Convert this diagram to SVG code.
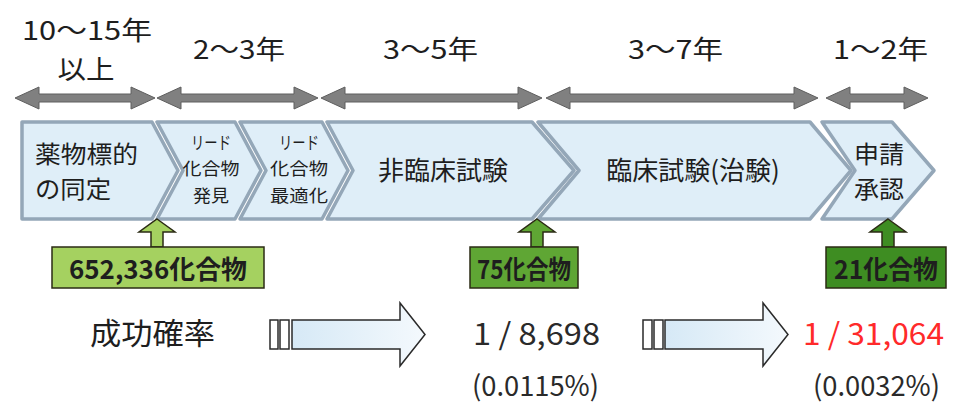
<svg xmlns="http://www.w3.org/2000/svg" width="955" height="407" viewBox="0 0 955 407">
<defs>
<linearGradient id="hol" x1="0" y1="0" x2="1" y2="0">
<stop offset="0" stop-color="#d6e9f6"/>
<stop offset="1" stop-color="#f4f9fd"/>
</linearGradient>
</defs>
<style>
.t{font-family:"Noto Sans CJK JP","Noto Sans",sans-serif;fill:#1e1e1e}
.yr{font-size:26px}
.ch{font-size:26px}
.ch2{font-size:24px}
.sm{font-size:17.5px}
.bx{font-size:26px;font-weight:700}
.num{font-size:30px;fill:#2a2a2a}
.pct{font-size:28px;fill:#2a2a2a}
.red{fill:#ff2a2a}
.span{fill:#808080;stroke:#5e5e5e;stroke-width:1}
.chev{fill:#dfeef8;stroke:#94a7b8;stroke-width:3.5;stroke-linejoin:round}
.hol{fill:url(#hol);stroke:#2a2a2a;stroke-width:1.5}
.bar{fill:#ffffff;stroke:#2a2a2a;stroke-width:1.5}
.gb{stroke:#2b2b14;stroke-width:1.5}
</style>
<rect width="955" height="407" fill="#ffffff"/>

<g id="durations">
<text class="t yr" x="22" y="40" textLength="130" lengthAdjust="spacingAndGlyphs">10～15年</text>
<text class="t yr" x="86" y="79" text-anchor="middle" textLength="57" lengthAdjust="spacingAndGlyphs">以上</text>
<text class="t yr" x="193" y="59" textLength="92" lengthAdjust="spacingAndGlyphs">2～3年</text>
<text class="t yr" x="383" y="59" textLength="95" lengthAdjust="spacingAndGlyphs">3～5年</text>
<text class="t yr" x="628" y="59" textLength="95" lengthAdjust="spacingAndGlyphs">3～7年</text>
<text class="t yr" x="833" y="59" textLength="95" lengthAdjust="spacingAndGlyphs">1～2年</text>
</g>

<g id="connectors">
<path class="span" d="M15,98 L39,87 L39,94 L131,94 L131,87 L155,98 L131,109 L131,102 L39,102 L39,109 Z"/>
<path class="span" d="M157,98 L181,87 L181,94 L294,94 L294,87 L318,98 L294,109 L294,102 L181,102 L181,109 Z"/>
<path class="span" d="M321,98 L345,87 L345,94 L518,94 L518,87 L542,98 L518,109 L518,102 L345,102 L345,109 Z"/>
<path class="span" d="M546,98 L570,87 L570,94 L794,94 L794,87 L818,98 L794,109 L794,102 L570,102 L570,109 Z"/>
<path class="span" d="M826,98 L850,87 L850,94 L904,94 L904,87 L928,98 L904,109 L904,102 L850,102 L850,109 Z"/>
</g>

<g id="stage1">
<path class="chev" d="M22,122 L152,122 L178,170.5 L152,219 L22,219 Z"/>
<text class="t ch2" x="35" y="163" textLength="103" lengthAdjust="spacingAndGlyphs">薬物標的</text>
<text class="t ch2" x="35" y="198" textLength="76" lengthAdjust="spacingAndGlyphs">の同定</text>
</g>
<g id="stage2">
<path class="chev" d="M157,122 L235,122 L261,170.5 L235,219 L157,219 L183,170.5 Z"/>
<text class="t sm" x="211" y="149" text-anchor="middle" textLength="40" lengthAdjust="spacingAndGlyphs">リード</text>
<text class="t sm" x="211" y="175" text-anchor="middle" textLength="57" lengthAdjust="spacingAndGlyphs">化合物</text>
<text class="t sm" x="211" y="202" text-anchor="middle" textLength="36" lengthAdjust="spacingAndGlyphs">発見</text>
</g>
<g id="stage3">
<path class="chev" d="M240,122 L322,122 L348,170.5 L322,219 L240,219 L266,170.5 Z"/>
<text class="t sm" x="299" y="149" text-anchor="middle" textLength="40" lengthAdjust="spacingAndGlyphs">リード</text>
<text class="t sm" x="299" y="175" text-anchor="middle" textLength="58" lengthAdjust="spacingAndGlyphs">化合物</text>
<text class="t sm" x="299" y="202" text-anchor="middle" textLength="58" lengthAdjust="spacingAndGlyphs">最適化</text>
</g>
<g id="stage4">
<path class="chev" d="M327,122 L532,122 L574,170.5 L532,219 L327,219 L353,170.5 Z"/>
<text class="t ch" x="443" y="180" text-anchor="middle">非臨床試験</text>
</g>
<g id="stage5">
<path class="chev" d="M538,122 L810,122 L851,170.5 L810,219 L538,219 L579,170.5 Z"/>
<text class="t ch" x="693" y="180" text-anchor="middle">臨床試験(治験)</text>
</g>
<g id="stage6">
<path class="chev" d="M822,122 L892,122 L934,170.5 L892,219 L822,219 L855,170.5 Z"/>
<text class="t ch2" x="879" y="163" text-anchor="middle" textLength="50" lengthAdjust="spacingAndGlyphs">申請</text>
<text class="t ch2" x="879" y="198" text-anchor="middle" textLength="50" lengthAdjust="spacingAndGlyphs">承認</text>
</g>

<g id="count1">
<path class="gb" fill="#a5d160" d="M157,219 L175,232 L163,232 L163,247 L151,247 L151,232 L139,232 Z"/>
<rect class="gb" x="52" y="247" width="212" height="41" fill="#a5d160"/>
<text class="t bx" x="158" y="279" text-anchor="middle" textLength="178" lengthAdjust="spacingAndGlyphs">652,336化合物</text>
</g>
<g id="count2">
<path class="gb" fill="#5fa634" d="M537,219 L555,232 L543,232 L543,247 L531,247 L531,232 L519,232 Z"/>
<rect class="gb" x="470" y="247" width="108" height="41" fill="#5fa634"/>
<text class="t bx" x="524" y="279" text-anchor="middle" textLength="94" lengthAdjust="spacingAndGlyphs">75化合物</text>
</g>
<g id="count3">
<path class="gb" fill="#3e8d22" d="M888,219 L906,232 L894,232 L894,247 L882,247 L882,232 L870,232 Z"/>
<rect class="gb" x="826" y="247" width="120" height="41" fill="#3e8d22"/>
<text class="t bx" x="886" y="279" text-anchor="middle" textLength="104" lengthAdjust="spacingAndGlyphs">21化合物</text>
</g>

<g id="success">
<text class="t" x="90" y="344" font-size="30" textLength="125" lengthAdjust="spacingAndGlyphs">成功確率</text>
<rect class="bar" x="270" y="320" width="8" height="29"/>
<rect class="bar" x="280" y="320" width="9" height="29"/>
<path class="hol" d="M292,320 L400,320 L400,303 L425,334.5 L400,366 L400,349 L292,349 Z"/>
<text class="t num" x="473" y="345" textLength="127" lengthAdjust="spacingAndGlyphs">1 / 8,698</text>
<text class="t pct" x="472" y="396" textLength="127" lengthAdjust="spacingAndGlyphs">(0.0115%)</text>
<rect class="bar" x="643" y="320" width="9" height="29"/>
<rect class="bar" x="654" y="320" width="9" height="29"/>
<path class="hol" d="M665,320 L763,320 L763,303 L788,334.5 L763,366 L763,349 L665,349 Z"/>
<text class="t num red" x="803" y="345" textLength="141" lengthAdjust="spacingAndGlyphs">1 / 31,064</text>
<text class="t pct" x="813" y="396" textLength="127" lengthAdjust="spacingAndGlyphs">(0.0032%)</text>
</g>
</svg>
